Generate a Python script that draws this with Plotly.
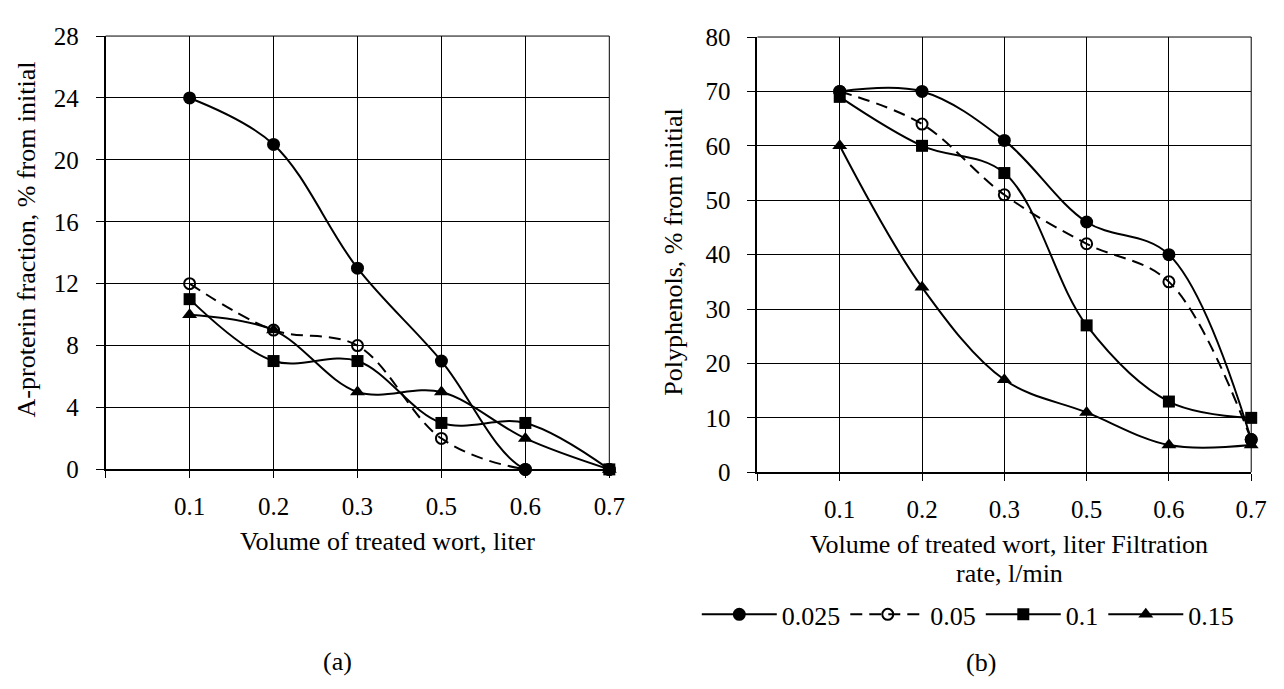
import plotly.graph_objects as go

# ---- data ----
volume_labels = ["", "0.1", "0.2", "0.3", "0.5", "0.6", "0.7"]
positions = [1, 2, 3, 4, 5, 6]          # category slots of 0.1 … 0.7

series_names = ["0.025", "0.05", "0.1", "0.15"]

protein_0025 = [24, 21, 13, 7, 0, 0]
protein_005 = [12, 9, 8, 2, 0, 0]
protein_01 = [11, 7, 7, 3, 3, 0]
protein_015 = [10, 9, 5, 5, 2, 0]

poly_0025 = [70, 70, 61, 46, 40, 6]
poly_005 = [70, 64, 51, 42, 35, 6]
poly_01 = [69, 60, 55, 27, 13, 10]
poly_015 = [60, 34, 17, 11, 5, 5]

protein_ticks = [0, 4, 8, 12, 16, 20, 24, 28]
poly_ticks = [0, 10, 20, 30, 40, 50, 60, 70, 80]

# ---- styles ----
FONT = "Liberation Serif"
FS = 25
TS = 26
styles = [
    dict(marker=dict(symbol="circle", size=13, color="black"), line=dict(color="black", width=2, dash="solid")),
    dict(marker=dict(symbol="circle-open", size=11, color="black", line=dict(width=2, color="black")),
         line=dict(color="black", width=2, dash="12px,7px")),
    dict(marker=dict(symbol="square", size=12, color="black"), line=dict(color="black", width=2, dash="solid")),
    dict(marker=dict(symbol="triangle-up", size=13, color="black"), line=dict(color="black", width=2, dash="solid")),
]

fig = go.Figure()

left_sets = [protein_0025, protein_005, protein_01, protein_015]
right_sets = [poly_0025, poly_005, poly_01, poly_015]

for name, ys, st in zip(series_names, left_sets, styles):
    fig.add_trace(go.Scatter(
        x=positions, y=ys, name=name, mode="lines+markers",
        line=dict(shape="spline", smoothing=1.0, **st["line"]),
        marker=st["marker"], xaxis="x", yaxis="y", showlegend=False, cliponaxis=False))

for name, ys, st in zip(series_names, right_sets, styles):
    fig.add_trace(go.Scatter(
        x=positions, y=ys, name=name, mode="lines+markers",
        line=dict(shape="spline", smoothing=1.0, **st["line"]),
        marker=st["marker"], xaxis="x2", yaxis="y2", showlegend=True, cliponaxis=False))

W, H = 1284, 689

def px_x(p):
    return p / W

def px_y(p):
    return 1 - p / H

xcommon = dict(
    range=[0, 6], tickmode="array", tickvals=list(range(7)), ticktext=volume_labels,
    showgrid=True, gridcolor="black", gridwidth=1,
    showline=True, linecolor="black", linewidth=2,
    ticks="outside", ticklen=7, tickwidth=1, tickcolor="black",
    tickfont=dict(family=FONT, size=FS, color="black"), ticklabelstandoff=7,
    zeroline=False, fixedrange=True,
)
ycommon = dict(
    showgrid=True, gridcolor="black", gridwidth=1,
    showline=True, linecolor="black", linewidth=2,
    ticks="outside", ticklen=8, tickwidth=1, tickcolor="black",
    tickfont=dict(family=FONT, size=FS, color="black"), ticklabelstandoff=12,
    zeroline=False, fixedrange=True,
)

fig.update_layout(
    width=W, height=H,
    margin=dict(l=0, r=0, t=0, b=0),
    paper_bgcolor="white", plot_bgcolor="white",
    font=dict(family=FONT, size=TS, color="black"),
    xaxis=dict(domain=[px_x(107), px_x(617)], anchor="y", **xcommon),
    yaxis=dict(domain=[px_y(475), px_y(24)], anchor="x", range=[0, 28],
               tickmode="array", tickvals=protein_ticks, **ycommon),
    xaxis2=dict(domain=[px_x(767), px_x(1267)], anchor="y2", **xcommon),
    yaxis2=dict(domain=[px_y(478), px_y(25)], anchor="x2", range=[0, 80],
                tickmode="array", tickvals=poly_ticks, **ycommon),
    legend=dict(orientation="h", x=px_x(980), xanchor="center", y=px_y(626), yanchor="middle",
                font=dict(family=FONT, size=TS, color="black"), itemwidth=75,
                bgcolor="rgba(0,0,0,0)", tracegroupgap=0),
    showlegend=True,
)

# thin frame at top/right, like gridlines
for xr, yr in (("x", "y"), ("x2", "y2")):
    fig.add_shape(type="line", xref=f"{xr} domain", yref=f"{yr} domain", x0=0, x1=1, y0=1, y1=1,
                  line=dict(color="black", width=1))
    fig.add_shape(type="line", xref=f"{xr} domain", yref=f"{yr} domain", x0=1, x1=1, y0=0, y1=1,
                  line=dict(color="black", width=1))

ann = dict(showarrow=False, xref="paper", yref="paper", font=dict(family=FONT, size=TS, color="black"))
fig.add_annotation(text="A-proterin fraction, % from initial", x=px_x(27), y=px_y(236),
                   textangle=-90, xanchor="center", yanchor="middle", **ann)
fig.add_annotation(text="Polyphenols, % from initial", x=px_x(682), y=px_y(249),
                   textangle=-90, xanchor="center", yanchor="middle", **ann)
fig.add_annotation(text="Volume of treated wort, liter", x=px_x(392), y=px_y(550),
                   xanchor="center", yanchor="middle", **ann)
fig.add_annotation(text="Volume of treated wort, liter Filtration", x=px_x(1022), y=px_y(553),
                   xanchor="center", yanchor="middle", **ann)
fig.add_annotation(text="rate, l/min", x=px_x(1022), y=px_y(583),
                   xanchor="center", yanchor="middle", **ann)
fig.add_annotation(text="(a)", x=px_x(342), y=px_y(675), xanchor="center", yanchor="middle", **ann)
fig.add_annotation(text="(b)", x=px_x(993), y=px_y(676), xanchor="center", yanchor="middle", **ann)

fig.write_html("out.html")
